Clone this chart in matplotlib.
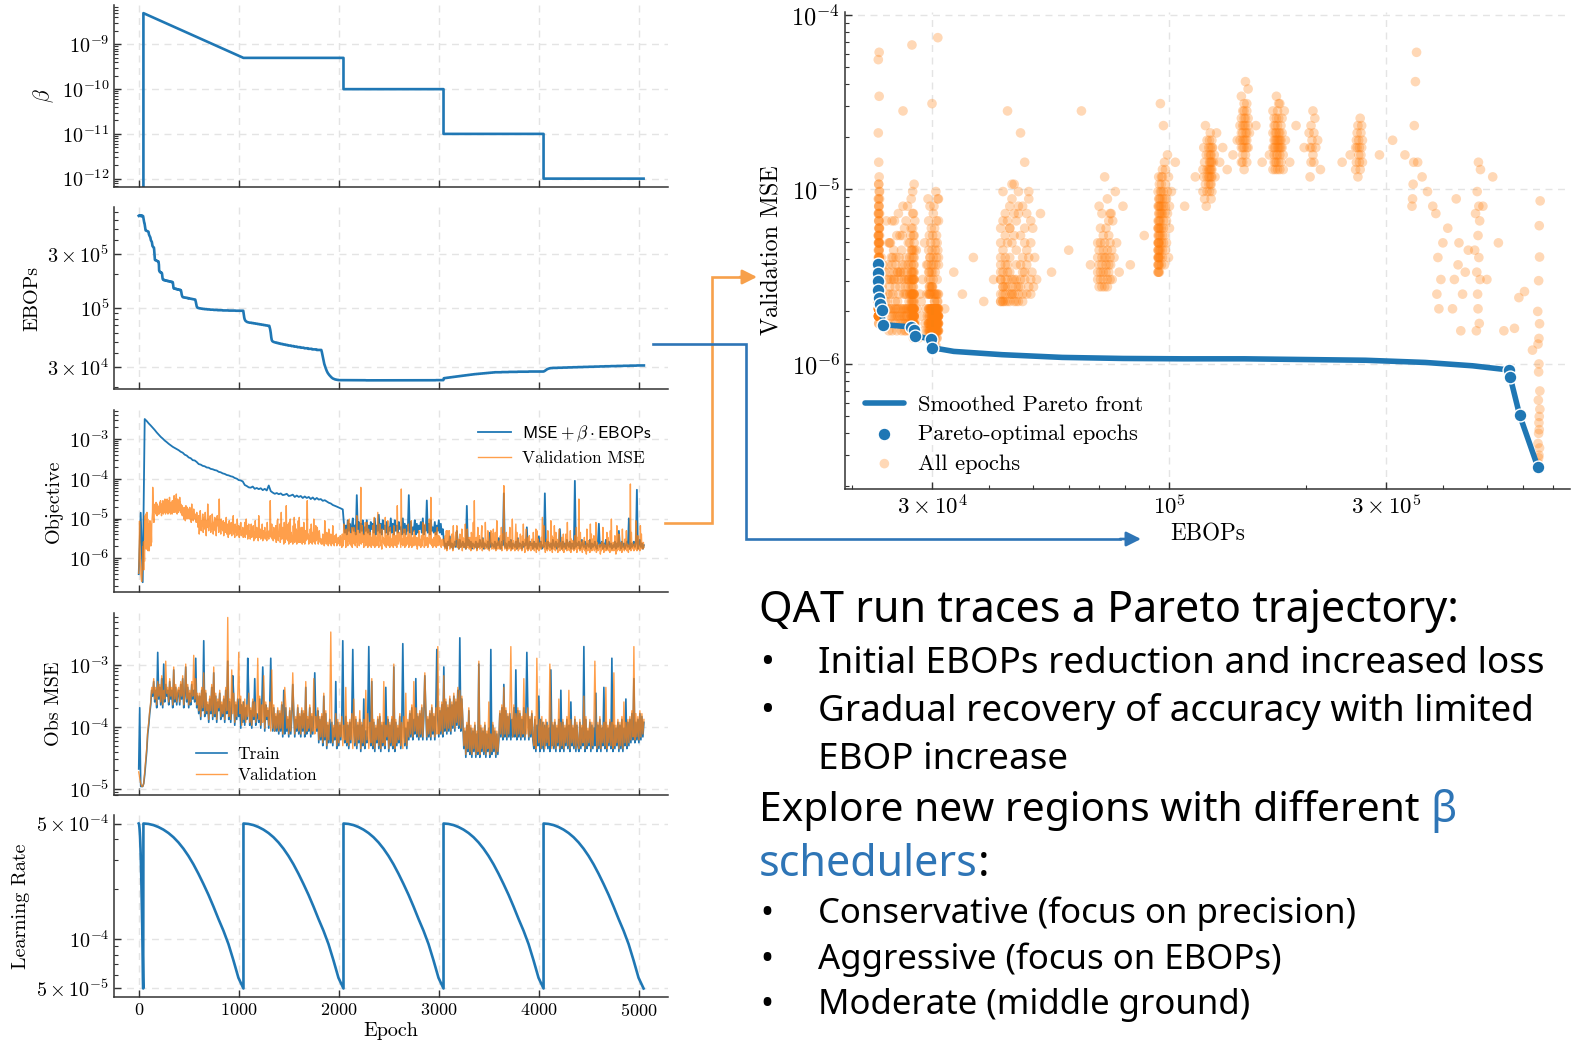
import matplotlib
matplotlib.use("Agg")
import matplotlib.pyplot as plt
import numpy as np
from matplotlib.lines import Line2D
from matplotlib.patches import FancyArrowPatch
from matplotlib.ticker import FixedLocator, FixedFormatter, LogLocator, NullFormatter

# ---------------------------------------------------------------- data
# Noisy per-epoch series are stored as level codes: one character per sample,
# character k of CODE_CHARS meaning log10(value) = log_lo + k * log_step.
CODE_CHARS = "0123456789ABCDEFGHIJKLMNOPQRSTUVWXYZabcdefghijklmnopqrstuvwxyz"

# sample epochs for EBOPs / validation MSE (every 2 epochs up to 498, every 5 afterwards)
epochs_fine = np.concatenate([np.arange(0, 500, 2), np.arange(500, 5051, 5)])

ebops_start_k = [
    652, 654, 651, 653, 655, 652, 650, 653, 651, 654, 652, 650, 653, 651, 649, 648, 650, 648, 651, 649,
    650, 648, 647, 630, 605, 590, 588, 575, 563, 561,
]
# (EBOPs in thousands, number of consecutive samples) from epoch 60 on
ebops_runs = [
    (545, 1), (530, 1), (515, 1), (500, 1), (490, 1),
    (484, 1), (483, 1), (482, 1), (481, 1), (480, 2), (479, 1), (478, 2), (477, 1), (476, 1), (475, 1),
    (474, 1), (472, 1), (470, 1),
    (455, 1), (448, 1), (442, 1), (438, 1), (434, 1), (432, 1), (428, 1), (424, 1), (420, 1), (410, 1),
    (400, 1), (396, 1), (392, 1), (390, 1), (388, 1), (386, 1), (380, 1), (370, 1), (360, 1), (352, 1),
    (350, 1), (348, 1), (346, 1), (345, 1), (344, 1), (343, 1), (342, 1), (330, 1), (310, 1), (290, 1),
    (266, 2), (265, 2), (264, 2), (263, 2), (262, 2), (261, 2), (260, 2), (259, 2), (258, 2), (257, 2),
    (250, 1), (240, 1),
    (215, 1), (212, 1), (210, 1), (209, 1), (208, 2), (207, 2), (206, 2), (205, 2), (204, 2), (203, 1),
    (198, 1), (190, 1), (184, 1), (180, 1), (179, 1), (178, 2), (177, 3), (176, 4), (175, 6),
    (174, 6), (173, 6), (172, 6), (171, 6), (170, 6), (169, 4), (166, 1), (160, 1), (155, 1),
    (150, 1), (149, 4), (148, 6), (147, 6), (146, 7), (145, 7), (144, 5), (143, 2),
    (141, 1), (138, 1), (134, 1), (131, 1), (129, 1), (127, 1), (126, 1), (125.5, 1), (125, 1), (124.5, 1),
    (124, 6), (123.5, 6), (123, 6), (122.5, 5), (122, 5),
    # every 5 epochs from 500
    (121, 4), (120.5, 2), (120, 2), (119.5, 2), (119, 2), (118.5, 2),
    (114, 1), (108, 1), (103, 1), (101, 1),
    (100, 2), (99.5, 2), (99, 3), (98.5, 3), (98, 4), (97.5, 5), (97, 6), (96.5, 7), (96, 8), (95.5, 10),
    (95, 12), (94.7, 14), (94.4, 16),
    (88, 1), (82, 1), (79, 1), (77.5, 1), (76.5, 1), (76, 1), (75.5, 1), (75, 1), (74.8, 1), (74.6, 1),
    (74.4, 1), (74.2, 1),
    (74, 4), (73.5, 4), (73, 4), (72.5, 4), (72, 4), (71.5, 4), (71, 4), (70.5, 4), (70, 4), (69.5, 4),
    (67, 1), (64, 1),
    (60, 1), (55, 1), (52, 1), (51, 1), (50.5, 1), (50.2, 1), (50, 1), (49.8, 1),
    (49.5, 4), (49, 4), (48.5, 4), (48, 5), (47.5, 5), (47, 5), (46.5, 6), (46, 6), (45.5, 6), (45, 7),
    (44.5, 7), (44, 8), (43.5, 8), (43, 9), (42.5, 10),
    (41, 1), (39, 1), (37, 1), (35, 1), (33.5, 1), (32, 1), (31, 1), (30, 1), (29.2, 1), (28.4, 1),
    (27.7, 1), (27.1, 1), (26.6, 1), (26.2, 1), (25.8, 1), (25.5, 1), (25.2, 1), (24.9, 1), (24.6, 1),
    (24.4, 1), (24.2, 1), (24, 1), (23.8, 1), (23.7, 1), (23.6, 1), (23.5, 1), (23.4, 1), (23.3, 2),
    (23.2, 2), (23.1, 3), (23.0, 4),
    (23.0, 20), (22.95, 30), (22.9, 60), (22.85, 40), (22.9, 20), (22.95, 20), (23.0, 16),
    (23.9, 2), (24.0, 3), (24.1, 3), (24.2, 3), (24.3, 3), (24.4, 3), (24.5, 3), (24.6, 3), (24.7, 3),
    (24.8, 3), (24.9, 3), (25.0, 3), (25.1, 3), (25.2, 3), (25.3, 3), (25.4, 3), (25.5, 3), (25.6, 3),
    (25.7, 3), (25.8, 3), (25.9, 3),
    (26.0, 4), (26.1, 4), (26.2, 4), (26.3, 4), (26.4, 4), (26.5, 4), (26.6, 4), (26.7, 4), (26.8, 4),
    (26.9, 4), (27.0, 4),
    (27.0, 10), (27.1, 14), (27.2, 18), (27.3, 22), (27.4, 30),
    (27.5, 1), (27.6, 1), (27.8, 1), (28.0, 1), (28.2, 1), (28.4, 1), (28.6, 1), (28.8, 1), (28.9, 1),
    (29.0, 1), (29.1, 1), (29.2, 1), (29.3, 2), (29.4, 4),
    (29.5, 10), (29.6, 10), (29.7, 10), (29.8, 10), (29.9, 10), (30.0, 11), (30.1, 11), (30.2, 11),
    (30.3, 11), (30.4, 10),
    (30.5, 12), (30.6, 12), (30.7, 13), (30.8, 13), (30.9, 14), (31.0, 15),
]

val_mse_start_e6 = [
    0.42, 0.55, 1.4, 4.1, 8.6, 6.2, 3.0, 1.7, 1.0, 0.7, 0.5, 0.4, 0.33, 0.3, 0.27, 0.26, 0.29, 0.35, 0.46, 0.62,
    0.9, 1.3, 2.0, 1.2, 2.6, 0.51, 2.4, 1.6, 0.92, 0.84,
]
# validation MSE from epoch 60 on (log10 = -6.65 + 0.042 k)
val_mse_codes = """
KWfRb gRZLbUhNXPdSKaV VSPKWTcRNY WRNUPabdfh wsmhecbiki hkmjilgnjhkifmjlhkgjih gkjnhliojkmhfjl
jmhkoigljnkhmjpilgkj kjnhlpikmg johlkniqjh mkglnijhmk gojlihm lnjrmkohlp jnkmsilogj mpknhljoim kqjlnhmk
kigjhlfihj hfjdgkeihf gcjhlegifd hkgeifjg
gdkfibmehc jfdg fbhd
bYfUaidWcZ gVbeXhaTcY mbWdZfVaXg cUbYeWdTaf ZcVpYbUdXa WcTZbVYeUX aSWcUYVbTZ XfUWSaVYTd WUZSXVbTWU YS
XTbSWdUZRV aT
WRUaSXTZQV RcUSYTWQfU SXRVTaQUWS YRTVQbSURW To
VSaRUQYS
WRZPUcdQVT aPShRWYUOb SPTlRXQaOb QdPVRTOZQe PaRXOWQcPe RPUYSOYPbT OWQSZoRUOT QXPaROVQdP SOZQRYUOSW TPRO
ROUPSNcQTO VPRNXQSOUN RPZOSNTQPU NROSPQNT
PSMUQNaRWT MXPSNcQdOP UNYMSPYOVN SPfMRWTNQW wOSZPRMUPb NTObMRXSNV QMSOZNReMT OSNWhPMRaU NQLXPSORNe PMTOcNQSMY
ORNPUMZSON TPMlROQVSP MvORNQXTMX RNPSOaMUNR OcMQPSNWOT PNSLQOWNRP MTQNbRSMPa NQOSMRPdTO qPNRMQSONV OMRYNPTOSN
QMPRON
ORLTNWKSWQ NWLPRMUTKZ MPNSVRZMRN LQUMTNXKSO MRNaLPUXMS NLSRKVTMNb LoMPNSKRYM PTLQMUZKRN MPLbSNQLWT NKORWPLUNX
LPMVKScRLO MQLTNYKPUR xNLPMVKOSN LRYOKPNdLQ MNKSaLVMRK ONLUMPKTNa PMJRNXLQKS MTLPKNRLMV NKPMXJWLNR KOMPLSNeUM
ZLNJPMRKWL NPKMcLTJSN LZPKVNRLJQ MXKNPLSMKU JNLPUQKbNL PKMWJRNLQM KNTLMYJSLN pMKVLPNJQL MSKNLIXMKQ LNJaMUKRLM
TKNLbJMPKN LMOINKPLYM JOLNKMVLSK NMJWLdKNMP KLTMINZKML UNKPLMJXNL MKRLNWKMOJ NLMyKVLPMN KOMLcNKMTL NMKZLUMNLP
M
"""

# objective (MSE + beta * EBOPs): every 20 epochs up to 2040 (units 1e-6) ...
objective_early_e6 = [
    0.4, 14, 0.25, 3200, 2850, 2480, 2200, 1930, 1700, 1470,
    1300, 1140, 1030, 920, 840, 760, 700, 640, 600, 560,
    525, 480, 455, 405, 385, 345, 330, 295, 290, 265,
    235, 228, 212, 207, 193, 191, 178, 174, 166, 162,
    150, 146, 137, 133, 125, 122, 116, 113, 105, 101,
    93, 91, 86, 70, 66, 61, 60, 64, 56, 59,
    55, 58, 52, 56, 51, 68, 49, 45, 42, 44,
    41, 43, 39, 40, 42, 37, 38, 40, 35, 38,
    35, 37, 33, 36, 33, 35, 31, 34, 30, 33,
    30, 31, 28, 29, 27, 25, 24, 22, 21, 20,
    19, 18, 17,
]
# ... then every 10 epochs from 2050 on (log10 = -6.3 + 0.045 k)
objective_late_codes = """
RLPKSMQLOT MPKgNRLQMS KOMSLPKRNQ LTKPMVLQKS NPLRKOMTLQ KSMPLRNOKT LQKPMgLRKO MSKQLPNRLT KPMdLQKSMO LRKPMSLQKN
HDFCGEJDFC EGDMFCHDEG DFCaEHDGCF EDGCFDHEDI CFEDGCLDFE DGCFEIDCGE hDFCEGDHCF EDGCIDFECG DFEOCDGEFC GDFCEJDGCE
DhFCGEDFCH EDGCFDNECG DFCHEDGCFE CoDFEGCDHE DGCFEDHCFD EGDCFQDEGC FDHCEGDFCE DGCFDMECGD FCEGDTCFDE GDFjCEHDFC
E
"""

# observable-space MSE, every 10 epochs from 0 to 5050 (log10 = -5.1 + 0.047 k)
obs_train_codes = """
9U33347BFL OSVaYdWaUn
XbVeUjWcYa VdXaUhWbVZ aVcXeUYiWb UZVcXaWlUY SYQaTrRZSV PXSbQgRYPW TZQVRXPaSk QWPUfYOVQX
RXNVPWOUQl YOTNWQeOSR PXNUiWMVQT NVlSMUMRMT LSMVKaLUMQ KTLRcSKQMU LRKTMSKbLQ MUKRLSgQMT
IQJRHYJSGO IQIPHNJdGP HOJQrNIRHO
GPIRoNHQGO IQFOHXGMIR pOHdGPFNIQ GRFOHPGbJQ FOHQGiFPHN IRGOqQHNGP
JSKUJQLeKR JSKUJRfTJQ KSJULRJToQ KTLVKiMWLU MXLVNYMWOa NsMXP
GMDOFTENDM FODLEjDNFM EODLFNDoEO FMDLE JSKUJcKTJR KSJQKUKhJT KSJQKUJRnT JQKSJ
GQFOHYFQGP FOHPGNFhHO GPFNHQFaGP FNHQGOFWHN GQFOH
FPGNHpFQGM HPFOGNHZFO GQFNHbGPFN HPGlFOGNHP FOGQFNHXGP HQISJeIPJQ ISJRKP
"""
obs_val_codes = """
8643348CGM PTWbZeXbVd
YcWfVaXkZb WeYbViXcWa bWdYfVZjXc VaWdYmXeVZ TZRbUgSaTW QYTcRiSZQX UaRWSYQbTz RXQhSZPWRY
nSYOWQXPVR ZPUOXRWPTl QYOVPfNWRU OWMhNVMSNU MTNWLSbVNR LUMSgTLRNV MSLUNTLdMR NVLSMeLRNU
JRKSIZKTHP JRuQIOKSHQ IPKRHOJbIP
HQJSGXIRHP JTGPIQHaJS GPIeHQGOJR HSGPIdHOKR GPIRHjGQIO JSHPGRIZHQ
KTLVKdMULS KTLVKSgUKR LTKVMSKULp LUMWLfNXMV NYMWOZNXPb OaNYQ
HNEPGUFOEN GPEMFkEOGN FPEMGWELFP GNEMF KTLVKbLUKS LTpRKVLSKU LTKRLeKSLU KRLTK
HRGlPIQGRH PGQIOHjRGP HQGOIXGPHQ GOIRHaGQIO HRGPI
GQHOIYGRHN IQGPHOkQGP HRGOIPHbGO IQHPGgHOIQ GPHRGWIPHQ IRJTKpJSKR JTKSLQ
"""

# beta schedule: off during warm-up, then decays and steps down every 1000 epochs
beta_epochs = [0, 47, 47, 1047, 2047, 2047, 3047, 3047, 4047, 4047, 5047]
beta_values = [0, 0, 5e-9, 5e-10, 5e-10, 1e-10, 1e-10, 1e-11, 1e-11, 1e-12, 1e-12]

# one cosine learning-rate cycle, sampled at 21 evenly spaced points of the cycle
lr_cycle = [5.0e-4, 4.97e-4, 4.89e-4, 4.76e-4, 4.59e-4, 4.38e-4, 4.13e-4, 3.84e-4, 3.52e-4, 3.18e-4,
            2.83e-4, 2.48e-4, 2.15e-4, 1.85e-4, 1.57e-4, 1.32e-4, 1.12e-4, 9.3e-5, 7.4e-5, 5.8e-5, 5.0e-5]
lr_cycle_starts = [0, 47, 1047, 2047, 3047, 4047]
lr_cycle_lengths = [45, 1000, 1000, 1000, 1000, 1000]

front_ebops_k = [22.85, 22.85, 22.85, 22.85, 22.96, 23.04, 23.3, 23.37, 26.97, 27.34, 27.5, 29.85, 30.0,
                 33.5, 42.8, 58.1, 79, 107, 146, 198, 270, 366, 465, 560.7, 562.9, 589.9, 647.8]
front_mse_e6 = [3.74, 3.34, 3.0, 2.65, 2.39, 2.2, 2.04, 1.68, 1.63, 1.56, 1.45, 1.39, 1.24,
                1.18, 1.13, 1.09, 1.075, 1.07, 1.07, 1.06, 1.05, 1.02, 0.976, 0.923, 0.837, 0.512, 0.255]
pareto_ebops_k = [22.85, 22.85, 22.85, 22.85, 22.96, 23.04, 23.3, 23.37, 26.97, 27.34, 27.5, 29.85, 30.0,
                  560.7, 562.9, 589.9, 647.8]
pareto_mse_e6 = [3.74, 3.34, 3.0, 2.65, 2.39, 2.2, 2.04, 1.68, 1.63, 1.56, 1.45, 1.39, 1.24,
                 0.923, 0.837, 0.512, 0.255]


def decode(codes, log_lo, log_step):
    levels = np.array([CODE_CHARS.index(c) for c in "".join(codes.split())])
    return 10.0 ** (log_lo + log_step * levels)


ebops_run_k = np.repeat([v for v, n in ebops_runs], [n for v, n in ebops_runs])
ebops = np.concatenate([ebops_start_k, ebops_run_k]) * 1e3
val_mse = np.concatenate([np.array(val_mse_start_e6) * 1e-6, decode(val_mse_codes, -6.65, 0.042)])

epochs_obj = np.concatenate([np.arange(0, 2041, 20), np.arange(2050, 5051, 10)])
objective = np.concatenate([np.array(objective_early_e6) * 1e-6, decode(objective_late_codes, -6.3, 0.045)])

epochs_obs = np.arange(0, 5051, 10)
obs_train = decode(obs_train_codes, -5.1, 0.047)
obs_val = decode(obs_val_codes, -5.1, 0.047)

assert len(ebops) == len(val_mse) == len(epochs_fine), (len(ebops), len(val_mse), len(epochs_fine))
assert len(objective) == len(epochs_obj), (len(objective), len(epochs_obj))
assert len(obs_train) == len(obs_val) == len(epochs_obs), (len(obs_train), len(obs_val), len(epochs_obs))

lr_frac = np.linspace(0, 1, len(lr_cycle))
lr_epochs = np.concatenate([s + lr_frac * n for s, n in zip(lr_cycle_starts, lr_cycle_lengths)])
lr_values = np.tile(lr_cycle, len(lr_cycle_starts))

# ---------------------------------------------------------------- style
BLUE = "#1f77b4"
ORANGE = "#ff7f0e"
ARROW_BLUE = "#2e75b6"
ARROW_ORANGE = "#f7a04b"
TEXT_BLUE = "#2e75b6"

plt.rcParams.update({
    "font.family": "cmr10",
    "mathtext.fontset": "cm",
    "axes.unicode_minus": False,
    "axes.formatter.use_mathtext": True,
})

W, H = 1587, 1044


def fx(x):
    return x / W


def fy(y):
    return 1 - y / H


def style_axes(ax, tick_size):
    for side in ("top", "right"):
        ax.spines[side].set_visible(False)
    for side in ("left", "bottom"):
        ax.spines[side].set_color("#333333")
        ax.spines[side].set_linewidth(1.1)
    ax.tick_params(which="major", direction="in", length=5, width=1, labelsize=tick_size, color="#333333")
    ax.tick_params(which="minor", direction="in", length=3, width=0.8, color="#333333")
    ax.grid(True, which="major", color="#e4e4e4", linestyle=(0, (5, 4)), linewidth=1.0)
    ax.set_axisbelow(True)


def log_ticks(axis, values, labels):
    axis.set_major_locator(FixedLocator(values))
    axis.set_major_formatter(FixedFormatter(labels))
    axis.set_minor_locator(LogLocator(base=10, subs=np.arange(2, 10)))
    axis.set_minor_formatter(NullFormatter())


fig = plt.figure(figsize=(W / 100, H / 100), dpi=100)

# ---------------------------------------------------------------- training history panels
panel_rows = [(5, 187), (207, 389), (410, 592), (613, 795), (815, 997)]
axes = [fig.add_axes([fx(114), fy(b), fx(668) - fx(114), (b - t) / H]) for t, b in panel_rows]
label_size = 14.5

ax = axes[0]
ax.plot(beta_epochs, beta_values, color=BLUE, lw=1.9)
ax.set_yscale("log", nonpositive="clip")
ax.set_ylim(6.5e-13, 7.6e-9)
log_ticks(ax.yaxis, [1e-12, 1e-11, 1e-10, 1e-9],
          [r"$10^{-12}$", r"$10^{-11}$", r"$10^{-10}$", r"$10^{-9}$"])
ax.set_ylabel(r"$\beta$", fontsize=label_size + 1)

ax = axes[1]
ax.plot(epochs_fine, ebops, color=BLUE, lw=1.9)
ax.set_yscale("log")
ax.set_ylim(1.92e4, 7.8e5)
log_ticks(ax.yaxis, [3e4, 1e5, 3e5], [r"$3\times10^{4}$", r"$10^{5}$", r"$3\times10^{5}$"])
ax.set_ylabel("EBOPs", fontsize=label_size)

ax = axes[2]
ax.plot(epochs_obj, objective, color=BLUE, lw=1.3, label=r"$\mathsf{MSE} + \beta \cdot \mathsf{EBOPs}$")
ax.plot(epochs_fine, val_mse, color=ORANGE, lw=1.0, alpha=0.75, label="Validation MSE")
ax.set_yscale("log")
ax.set_ylim(1.42e-7, 5.4e-3)
log_ticks(ax.yaxis, [1e-6, 1e-5, 1e-4, 1e-3],
          [r"$10^{-6}$", r"$10^{-5}$", r"$10^{-4}$", r"$10^{-3}$"])
ax.set_ylabel("Objective", fontsize=label_size)
ax.legend(loc="upper right", bbox_to_anchor=(0.998, 1.01), frameon=False, fontsize=12.5,
          handlelength=1.9, handletextpad=0.6, labelspacing=0.35)

ax = axes[3]
ax.plot(epochs_obs, obs_train, color=BLUE, lw=1.2, label="Train")
ax.plot(epochs_obs, obs_val, color=ORANGE, lw=1.0, alpha=0.75, label="Validation")
ax.set_yscale("log")
ax.set_ylim(8e-6, 6.9e-3)
log_ticks(ax.yaxis, [1e-5, 1e-4, 1e-3], [r"$10^{-5}$", r"$10^{-4}$", r"$10^{-3}$"])
ax.set_ylabel("Obs MSE", fontsize=label_size)
ax.legend(loc="lower left", bbox_to_anchor=(0.12, -0.02), frameon=False, fontsize=12.5,
          handlelength=1.8, handletextpad=0.6, labelspacing=0.35)

ax = axes[4]
ax.plot(lr_epochs, lr_values, color=BLUE, lw=1.9)
ax.set_yscale("log")
ax.set_ylim(4.44e-5, 5.63e-4)
log_ticks(ax.yaxis, [5e-5, 1e-4, 5e-4], [r"$5\times10^{-5}$", r"$10^{-4}$", r"$5\times10^{-4}$"])
ax.set_ylabel("Learning Rate", fontsize=label_size)
ax.set_xlabel("Epoch", fontsize=label_size, labelpad=2)

for i, ax in enumerate(axes):
    style_axes(ax, 14.5)
    ax.tick_params(axis="x", labelsize=13)
    ax.set_xlim(-247, 5291)
    ax.set_xticks([0, 1000, 2000, 3000, 4000, 5000])
    if i < len(axes) - 1:
        ax.tick_params(labelbottom=False)

# ---------------------------------------------------------------- pareto scatter
axr = fig.add_axes([fx(845), fy(489), fx(1570) - fx(845), (489 - 12) / H])
all_pts = axr.scatter(ebops, val_mse, s=48, color=ORANGE, alpha=0.3, edgecolors="none",
                      label="All epochs", zorder=2)
front, = axr.plot(np.array(front_ebops_k) * 1e3, np.array(front_mse_e6) * 1e-6, color=BLUE, lw=4,
                  solid_capstyle="round", solid_joinstyle="round", label="Smoothed Pareto front", zorder=3)
pareto = axr.scatter(np.array(pareto_ebops_k) * 1e3, np.array(pareto_mse_e6) * 1e-6, s=85, color=BLUE,
                     edgecolors="white", linewidths=1.0, label="Pareto-optimal epochs", zorder=4)
axr.set_xscale("log")
axr.set_yscale("log")
axr.set_xlim(1.93e4, 7.62e5)
axr.set_ylim(1.92e-7, 1.04e-4)
log_ticks(axr.xaxis, [3e4, 1e5, 3e5], [r"$3\times10^{4}$", r"$10^{5}$", r"$3\times10^{5}$"])
log_ticks(axr.yaxis, [1e-6, 1e-5, 1e-4], [r"$10^{-6}$", r"$10^{-5}$", r"$10^{-4}$"])
style_axes(axr, 16.5)
axr.tick_params(axis="y", labelsize=17.5)
axr.set_xlabel("EBOPs", fontsize=16.7)
axr.set_ylabel("Validation MSE", fontsize=17.3, labelpad=6)
axr.legend(handles=[front, pareto, all_pts], loc="lower left", bbox_to_anchor=(0.0, -0.01),
           frameon=False, fontsize=16.2, handlelength=1.7, handletextpad=0.65, labelspacing=0.42)

# ---------------------------------------------------------------- connectors
def elbow(points, head, color):
    xs = [fx(p[0]) for p in points]
    ys = [fy(p[1]) for p in points]
    fig.add_artist(Line2D(xs, ys, transform=fig.transFigure, color=color, lw=1.9,
                          solid_joinstyle="miter"))
    fig.add_artist(FancyArrowPatch((xs[-1], ys[-1]), (fx(head[0]), fy(head[1])),
                                   transform=fig.transFigure, arrowstyle="-|>", mutation_scale=22,
                                   color=color, lw=1.9, shrinkA=0, shrinkB=0))


elbow([(665, 523), (711.5, 523), (711.5, 277), (740, 277)], (757, 277), ARROW_ORANGE)
elbow([(653, 344), (746, 344), (746, 539), (1120, 539)], (1141, 539), ARROW_BLUE)

# ---------------------------------------------------------------- notes
HEAD = dict(fontsize=31, family="Noto Sans", va="center", ha="left", color="black")
BODY = dict(fontsize=26.5, family="Noto Sans", va="center", ha="left", color="black")
BODY_SMALL = {**BODY, "fontsize": 25}

fig.text(fx(759), fy(611), "QAT run traces a Pareto trajectory:", **HEAD)
for y, s, style in [
    (664, "Initial EBOPs reduction and increased loss", BODY),
    (712, "Gradual recovery of accuracy with limited", BODY),
    (914, "Conservative (focus on precision)", BODY_SMALL),
    (960, "Aggressive (focus on EBOPs)", BODY_SMALL),
    (1005.5, "Moderate (middle ground)", BODY_SMALL),
]:
    fig.text(fx(760), fy(y), "\u2022", **style)
    fig.text(fx(818), fy(y), s, **style)
fig.text(fx(818), fy(760), "EBOP increase", **BODY)

renderer = fig.canvas.get_renderer()
t = fig.text(fx(759), fy(811), "Explore new regions with different", **{**HEAD, "fontsize": 29.3})
x_end = t.get_window_extent(renderer).x1
space = 0.26 * HEAD["fontsize"] * 100 / 72
fig.text((x_end + space) / W, fy(811), "\u03b2", **{**HEAD, "color": TEXT_BLUE})
t = fig.text(fx(759), fy(865), "schedulers", **{**HEAD, "color": TEXT_BLUE})
x_end = t.get_window_extent(renderer).x1
fig.text(x_end / W, fy(865), ":", **HEAD)

fig.savefig("out.png", dpi=100)
